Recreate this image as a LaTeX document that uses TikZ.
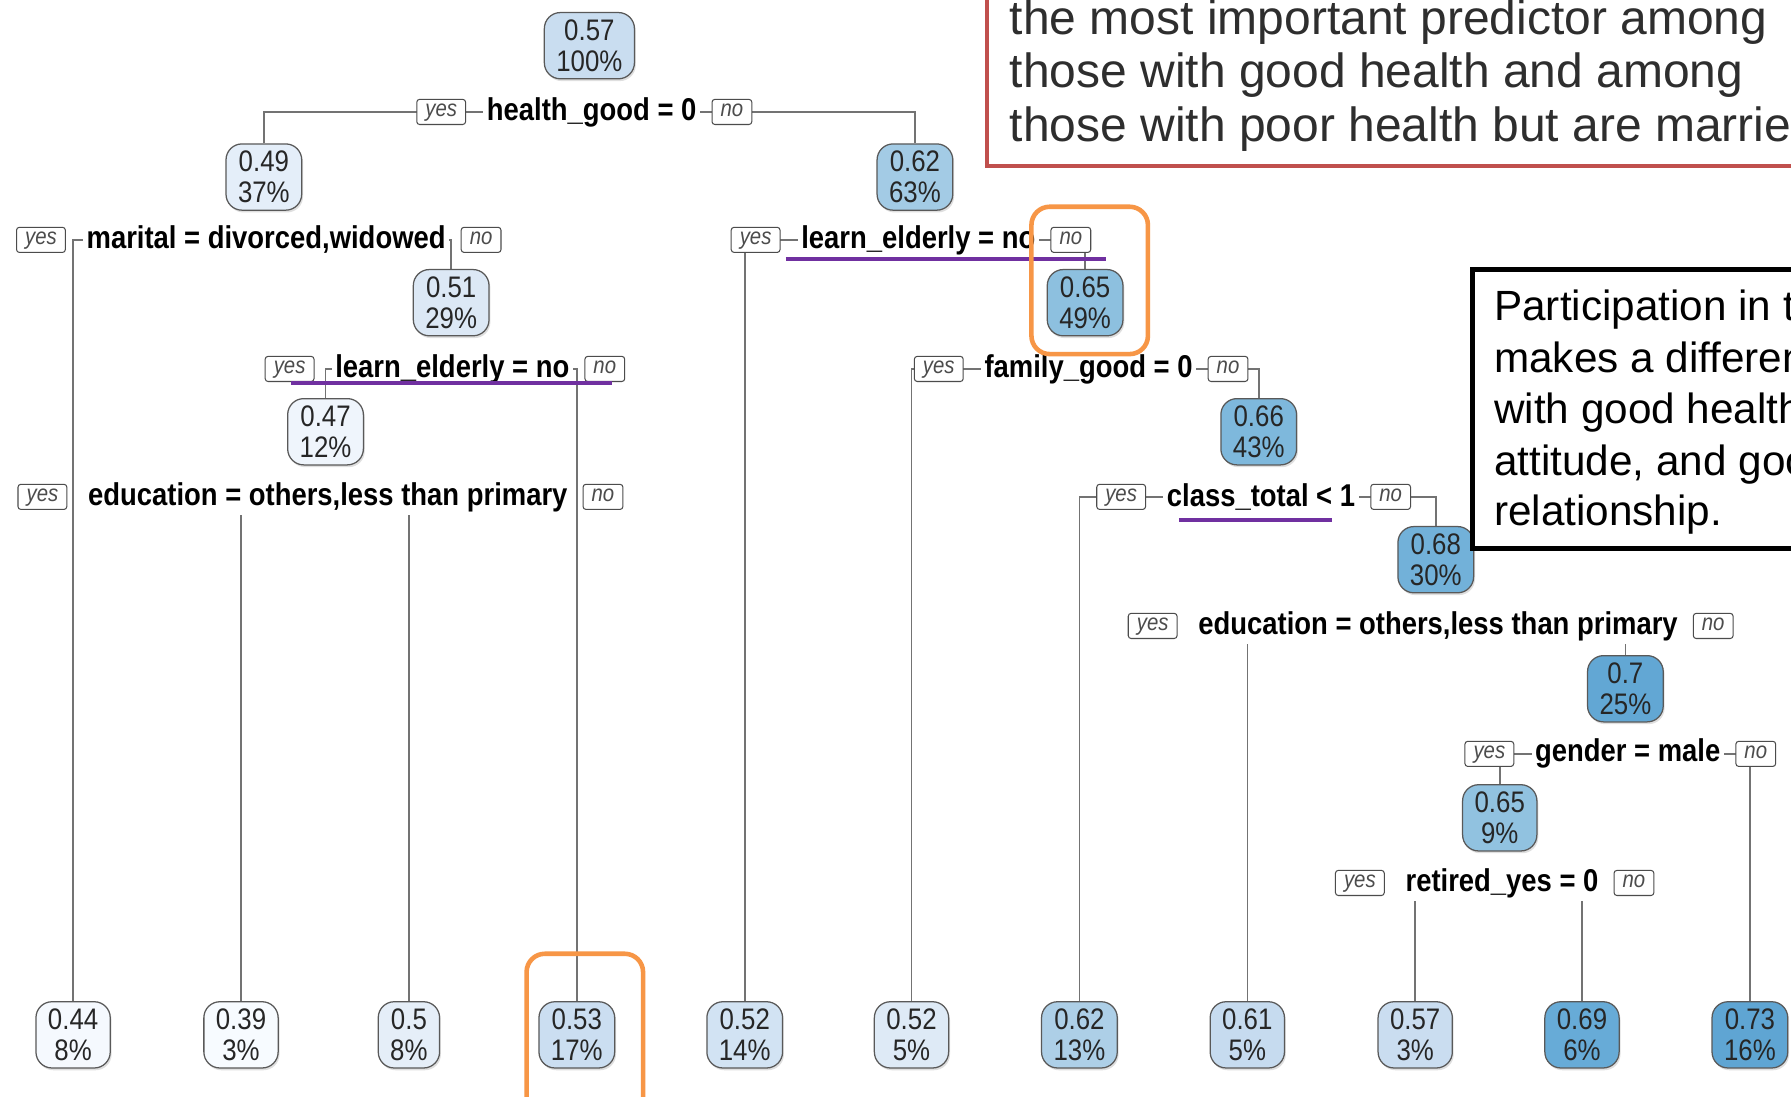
\documentclass[tikz,border=0pt]{standalone}
\usepackage{fontspec}
\setmainfont{Liberation Sans}
\newfontfamily\treefont[FakeStretch=0.87]{Liberation Sans}
\usetikzlibrary{positioning,backgrounds,shadows}

\definecolor{rbox}{HTML}{C0504D}
\definecolor{pline}{HTML}{7030A0}
\definecolor{oline}{HTML}{F79646}
\definecolor{f57r}{HTML}{C9DDF0}
\definecolor{f49}{HTML}{E4EEF9}
\definecolor{f62}{HTML}{A3CBE5}
\definecolor{f51}{HTML}{DCE8F5}
\definecolor{f47}{HTML}{EFF5FC}
\definecolor{f65a}{HTML}{8DC0DF}
\definecolor{f66}{HTML}{7EB8DC}
\definecolor{f68}{HTML}{72B1D9}
\definecolor{f70}{HTML}{62A7D4}
\definecolor{f65b}{HTML}{91C2E0}
\definecolor{l44}{HTML}{F5F9FE}
\definecolor{l39}{HTML}{F7FBFF}
\definecolor{l50}{HTML}{E5EEF8}
\definecolor{l53}{HTML}{CBDEF1}
\definecolor{l52a}{HTML}{D2E3F3}
\definecolor{l52b}{HTML}{DEEAF6}
\definecolor{l62}{HTML}{ADCFE7}
\definecolor{l61}{HTML}{C6DBEF}
\definecolor{l57}{HTML}{CADDF0}
\definecolor{l69}{HTML}{67ABD7}
\definecolor{l73}{HTML}{5FA5D3}

\tikzset{
  nd/.style={draw=black!65, line width=1.1pt, rounded corners=14pt, minimum height=58pt,
    inner xsep=10.5pt, inner ysep=3pt, align=center,
    font=\treefont\fontsize{26}{27}\selectfont, text=black!85,
    drop shadow={shadow xshift=1.2pt, shadow yshift=-2pt, opacity=0.25}},
  lbl/.style={fill=white, inner xsep=3pt, inner ysep=3pt,
    font=\treefont\bfseries\fontsize{27.6}{27.6}\selectfont, text=black},
  yn/.style={draw=black!70, line width=0.9pt, rounded corners=2.5pt, fill=white,
    font=\treefont\itshape\fontsize{20.5}{20.5}\selectfont, text=black!70,
    minimum height=22pt, inner xsep=7.5pt, inner ysep=0pt, text height=13pt, text depth=4.5pt},
  ln/.style={draw=black!55, line width=1.4pt},
  ul/.style={draw=pline, line width=3.5pt},
  hl/.style={draw=oline, line width=4pt, rounded corners=16pt},
  bigtxt/.style={anchor=base west, inner sep=0pt},
}

\begin{document}
\begin{tikzpicture}[x=1pt,y=-1pt]
\useasboundingbox (0,0) rectangle (1568,960);

% internal nodes
\node[nd, fill=f57r] (R)   at (516,40)  {0.57\\100\%};
\node[nd, fill=f49]  (n49) at (231,155) {0.49\\37\%};
\node[nd, fill=f62]  (n62) at (801,155) {0.62\\63\%};
\node[nd, fill=f51]  (n51) at (395,265) {0.51\\29\%};
\node[nd, fill=f65a] (n65a) at (950,265) {0.65\\49\%};
\node[nd, fill=f47]  (n47) at (285,378) {0.47\\12\%};
\node[nd, fill=f66]  (n66) at (1102,378) {0.66\\43\%};
\node[nd, fill=f68]  (n68) at (1257,490) {0.68\\30\%};
\node[nd, fill=f70]  (n70) at (1423,603) {0.7\\25\%};
\node[nd, fill=f65b] (n65b) at (1313,716) {0.65\\9\%};

% leaves
\node[nd, fill=l44]  (L1)  at (64,906)   {0.44\\8\%};
\node[nd, fill=l39]  (L2)  at (211,906)  {0.39\\3\%};
\node[nd, fill=l50]  (L3)  at (358,906)  {0.5\\8\%};
\node[nd, fill=l53]  (L4)  at (505,906)  {0.53\\17\%};
\node[nd, fill=l52a] (L5)  at (652,906)  {0.52\\14\%};
\node[nd, fill=l52b] (L6)  at (798,906)  {0.52\\5\%};
\node[nd, fill=l62]  (L7)  at (945,906)  {0.62\\13\%};
\node[nd, fill=l61]  (L8)  at (1092,906) {0.61\\5\%};
\node[nd, fill=l57]  (L9)  at (1239,906) {0.57\\3\%};
\node[nd, fill=l69]  (L10) at (1385,906) {0.69\\6\%};
\node[nd, fill=l73]  (L11) at (1532,906) {0.73\\16\%};

% split labels
\node[lbl] (S1) at (518,98)   {health\_good = 0};
\node[lbl] (S2) at (233,210)  {marital = divorced,widowed};
\node[lbl] (S3) at (396,323)  {learn\_elderly = no};
\node[lbl] (S4) at (287,435)  {education = others,less than primary};
\node[lbl] (S5) at (804,210)  {learn\_elderly = no};
\node[lbl] (S6) at (953,323)  {family\_good = 0};
\node[lbl] (S7) at (1104,435) {class\_total < 1};
\node[lbl] (S8) at (1259,548) {education = others,less than primary};
\node[lbl] (S9) at (1425,660) {gender = male};
\node[lbl] (S10) at (1315,773) {retired\_yes = 0};

% yes / no boxes
\foreach \s in {S1,S2,S3,S4,S5,S6,S7,S8,S9,S10}{
  \node[yn, left=15pt of \s] (\s y) {yes};
  \node[yn, right=10pt of \s] (\s n) {no};
}

% connectors
\begin{scope}[on background layer]
\fill[white] (0,0) rectangle (1568,960);
\draw[ln] (n49.north) |- (S1.center) -| (n62.north);
\draw[ln] (L1.north)  |- (S2.center) -| (n51.north);
\draw[ln] (n47.north) |- (S3.center) -| (L4.north);
\draw[ln] (L2.north)  |- (S4.center) -| (L3.north);
\draw[ln] (L5.north)  |- (S5.center) -| (n65a.north);
\draw[ln] (L6.north)  |- (S6.center) -| (n66.north);
\draw[ln] (L7.north)  |- (S7.center) -| (n68.north);
\draw[ln] (L8.north)  |- (S8.center) -| (n70.north);
\draw[ln] (n65b.north) |- (S9.center) -| (L11.north);
\draw[ln] (L9.north)  |- (S10.center) -| (L10.north);
\end{scope}

% purple underlines
\draw[ul] (688,227) -- (968,227);
\draw[ul] (255,335) -- (536,335);
\draw[ul] (1032,455) -- (1166,455);

% orange highlights
\begin{scope}
\clip (0,0) rectangle (1568,960);
\draw[hl] (903,181) rectangle (1005,310);
\draw[hl] (461,835) rectangle (563,985);

% red comment box
\draw[draw=rbox, line width=3.5pt, fill=white] (864,-20) rectangle (1620,145);
\node[bigtxt, font=\fontsize{42}{47}\selectfont, text=black!82] (r1) at (884,30) {the most important predictor among};
\node[bigtxt, font=\fontsize{42}{47}\selectfont, text=black!82] (r2) at (884,77) {those with good health and among};
\node[bigtxt, font=\fontsize{42}{47}\selectfont, text=black!82] (r3) at (884,124) {those with poor health but are marrie};

% black comment box
\draw[draw=black, line width=4pt, fill=white] (1289,236) rectangle (1620,480);
\node[bigtxt, font=\fontsize{37}{45}\selectfont] (b1) at (1308,281) {Participation in t};
\node[bigtxt, font=\fontsize{37}{45}\selectfont] (b2) at (1308,326) {makes a differen};
\node[bigtxt, font=\fontsize{37}{45}\selectfont] (b3) at (1308,371) {with good health};
\node[bigtxt, font=\fontsize{37}{45}\selectfont] (b4) at (1308,416) {attitude, and goo};
\node[bigtxt, font=\fontsize{37}{45}\selectfont] (b5) at (1308,460) {relationship.};
\end{scope}
\end{tikzpicture}
\end{document}
